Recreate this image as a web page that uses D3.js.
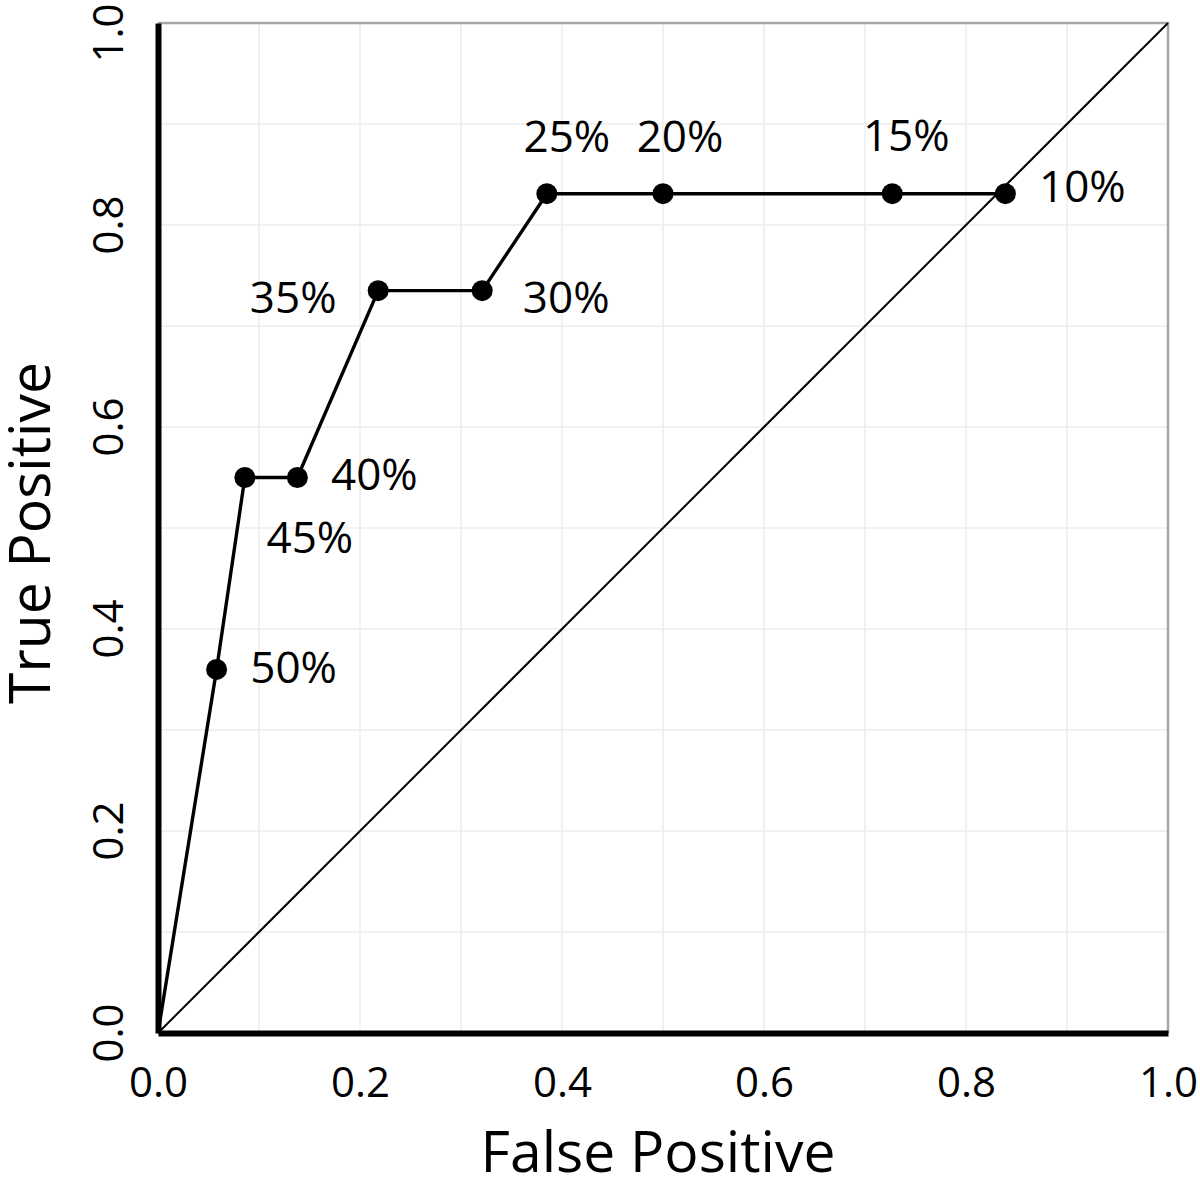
<!DOCTYPE html>
<html>
<head>
<meta charset="utf-8">
<script src="https://cdn.jsdelivr.net/npm/d3@7"></script>
<style>
  html, body { margin: 0; padding: 0; background: #fff; }
  svg { display: block; font-family: "Open Sans", sans-serif; }
</style>
</head>
<body>
<svg id="chart" width="1200" height="1185"></svg>
<script>
// ---- data ----
const falsePositive = [0, 0.058, 0.086, 0.138, 0.218, 0.321, 0.385, 0.500, 0.727, 0.839];
const truePositive  = [0, 0.360, 0.550, 0.550, 0.735, 0.735, 0.831, 0.831, 0.831, 0.831];
const thresholdLabels = ["", "50%", "45%", "40%", "35%", "30%", "25%", "20%", "15%", "10%"];
const tickValues = [0, 0.2, 0.4, 0.6, 0.8, 1.0];
const gridValues = [0.1, 0.2, 0.3, 0.4, 0.5, 0.6, 0.7, 0.8, 0.9];
const xTitle = "False Positive";
const yTitle = "True Positive";

// ---- label placement (layout, not data) ----
const labelOffsets = {
  "50%": [77, 14], "45%": [65, 75], "40%": [77, 12], "35%": [-85, 22],
  "30%": [84, 22], "25%": [20, -42], "20%": [17, -42], "15%": [14, -43], "10%": [77, 8]
};

const svg = d3.select("#chart");
const x = d3.scaleLinear().domain([0, 1]).range([158, 1168]);
const y = d3.scaleLinear().domain([0, 1]).range([1033, 23]);

// gridlines
svg.append("g").selectAll("line.v").data(gridValues).join("line")
  .attr("x1", d => x(d)).attr("x2", d => x(d)).attr("y1", y(0)).attr("y2", y(1))
  .attr("stroke", "#ececec").attr("stroke-width", 1.5);
svg.append("g").selectAll("line.h").data(gridValues).join("line")
  .attr("y1", d => y(d)).attr("y2", d => y(d)).attr("x1", x(0)).attr("x2", x(1))
  .attr("stroke", "#ececec").attr("stroke-width", 1.5);

// top & right border
svg.append("path")
  .attr("d", `M${x(0)},${y(1)}H${x(1)}V${y(0)}`)
  .attr("fill", "none").attr("stroke", "#a6a6a6").attr("stroke-width", 2.5);

// diagonal
svg.append("line")
  .attr("x1", x(0)).attr("y1", y(0)).attr("x2", x(1)).attr("y2", y(1))
  .attr("stroke", "#000").attr("stroke-width", 2);

// ROC line
const pts = falsePositive.map((v, i) => ({ fp: v, tp: truePositive[i], label: thresholdLabels[i] }));
svg.append("path").datum(pts)
  .attr("d", d3.line().x(d => x(d.fp)).y(d => y(d.tp)))
  .attr("fill", "none").attr("stroke", "#000").attr("stroke-width", 3.4);

// axes (thick left & bottom)
const xAxis = d3.axisBottom(x).tickValues(tickValues).tickSize(0).tickFormat(d3.format(".1f"));
const yAxis = d3.axisLeft(y).tickValues(tickValues).tickSize(0).tickFormat(d3.format(".1f"));

const gx = svg.append("g").attr("transform", `translate(0,${y(0)})`).call(xAxis);
gx.select(".domain").attr("stroke", "#000").attr("stroke-width", 6);
gx.selectAll("text").attr("font-size", 42).attr("font-family", "Open Sans")
  .attr("fill", "#000").attr("dy", null).attr("y", 64);

const gy = svg.append("g").attr("transform", `translate(${x(0)},0)`).call(yAxis);
gy.select(".domain").attr("stroke", "#000").attr("stroke-width", 6);
gy.selectAll(".tick").attr("transform", null);
gy.selectAll("text")
  .attr("font-size", 42).attr("font-family", "Open Sans").attr("fill", "#000")
  .attr("text-anchor", "middle").attr("dy", null).attr("x", null)
  .attr("transform", d => `translate(-35,${Math.max(y(d), 33)}) rotate(-90)`);

// markers
svg.append("g").selectAll("circle").data(pts.filter(d => d.label)).join("circle")
  .attr("cx", d => x(d.fp)).attr("cy", d => y(d.tp)).attr("r", 10.5).attr("fill", "#000");

// data labels
svg.append("g").selectAll("text").data(pts.filter(d => d.label)).join("text")
  .attr("x", d => x(d.fp) + labelOffsets[d.label][0])
  .attr("y", d => y(d.tp) + labelOffsets[d.label][1])
  .attr("text-anchor", "middle").attr("font-size", 44).attr("fill", "#000")
  .text(d => d.label);

// axis titles
svg.append("text").attr("x", 658).attr("y", 1172).attr("text-anchor", "middle")
  .attr("font-size", 57).attr("fill", "#000").text(xTitle);
svg.append("text").attr("transform", "translate(50,533) rotate(-90)").attr("text-anchor", "middle")
  .attr("font-size", 57).attr("fill", "#000").text(yTitle);
</script>
</body>
</html>
